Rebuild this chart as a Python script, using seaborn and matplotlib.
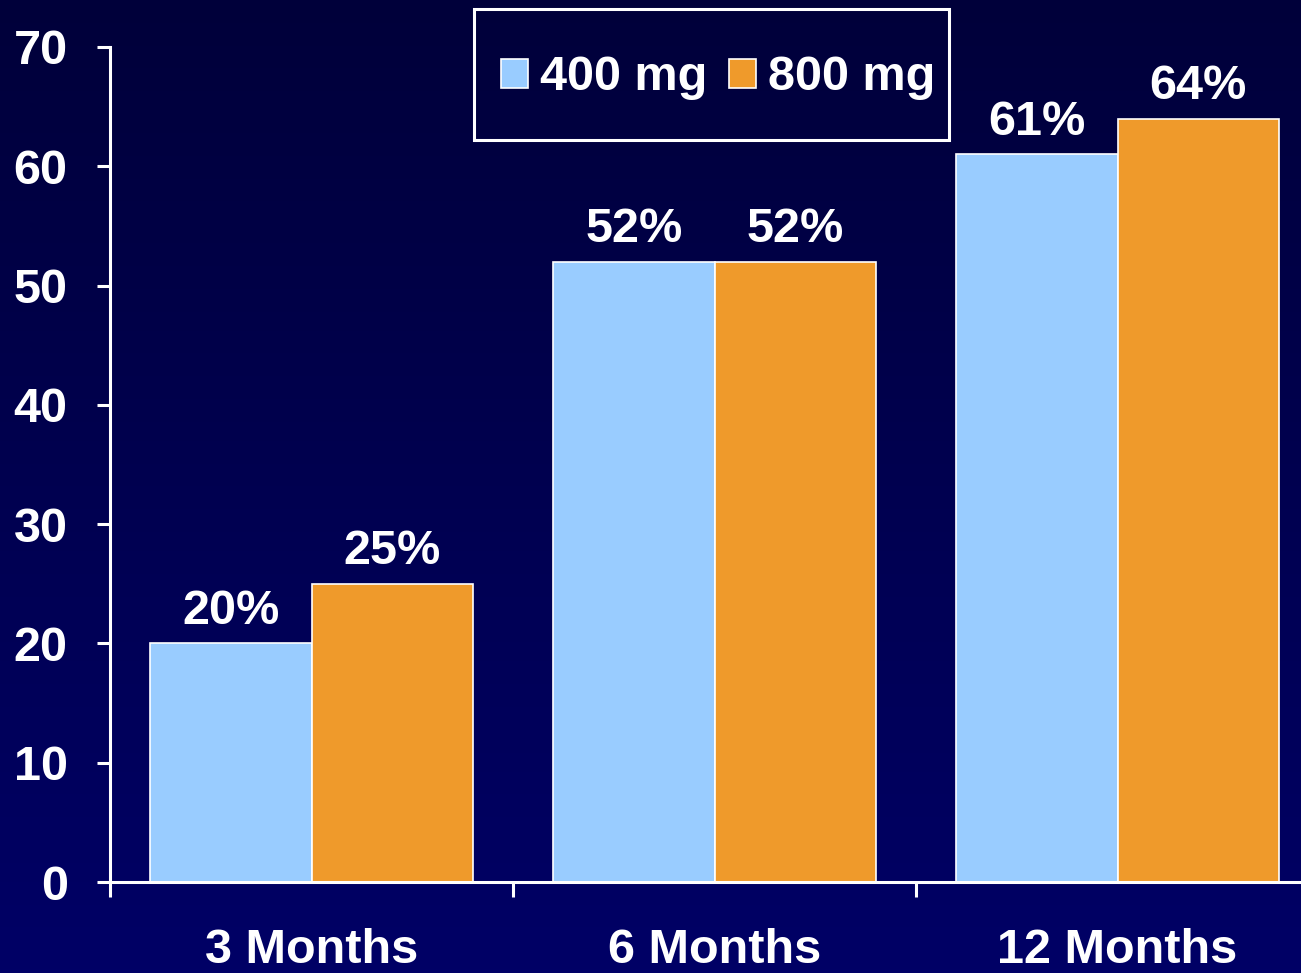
import numpy as np
import pandas as pd
import matplotlib
matplotlib.use("Agg")
import matplotlib.pyplot as plt
import seaborn as sns
from matplotlib.colors import LinearSegmentedColormap
from matplotlib.patches import Rectangle

# Response rates by time point and dose
periods = ["3 Months", "6 Months", "12 Months"]
doses = ["400 mg", "800 mg"]
rate_400 = [20, 52, 61]
rate_800 = [25, 52, 64]
y_ticks = [0, 10, 20, 30, 40, 50, 60, 70]

bar_colors = {"400 mg": "#99CCFF", "800 mg": "#EF9A2B"}

df = pd.DataFrame({
    "period": periods * 2,
    "dose": [doses[0]] * 3 + [doses[1]] * 3,
    "rate": rate_400 + rate_800,
})

sns.set_theme(style="white")
plt.rcParams["font.family"] = ["Liberation Sans", "DejaVu Sans"]
plt.rcParams["font.weight"] = "bold"

W, H = 1301, 973
fig = plt.figure(figsize=(W / 100, H / 100), dpi=100)

# navy backdrop, slightly lighter toward the bottom
bg = fig.add_axes([0, 0, 1, 1], zorder=-10)
grad = np.linspace(0, 1, 256).reshape(-1, 1)
cmap = LinearSegmentedColormap.from_list("navy", ["#00003A", "#000066"])
bg.imshow(grad, aspect="auto", cmap=cmap, extent=[0, 1, 0, 1], origin="upper")
bg.set_axis_off()

ax = fig.add_axes([110 / W, 91 / H, 1209 / W, 835 / H])
ax.patch.set_alpha(0)

sns.barplot(data=df, x="period", y="rate", hue="dose", order=periods,
            hue_order=doses, palette=bar_colors, width=0.8, gap=0,
            edgecolor="white", linewidth=1.2, saturation=1, ax=ax)

ax.set_xlim(-0.5, 2.5)
ax.set_ylim(0, 70)
ax.set_yticks(y_ticks)
ax.set_xlabel("")
ax.set_ylabel("")

for cont in ax.containers:
    ax.bar_label(cont, labels=[f"{v:g}%" for v in cont.datavalues],
                 padding=7, color="white", fontsize=35, fontweight="bold")

for side in ["top", "right"]:
    ax.spines[side].set_visible(False)
for side in ["left", "bottom"]:
    ax.spines[side].set_color("white")
    ax.spines[side].set_linewidth(2.2)

ax.tick_params(axis="y", which="major", left=True, direction="out", length=9.5,
               width=2.2, color="white", pad=21, labelsize=35, labelcolor="white")
ax.tick_params(axis="x", which="major", length=0, pad=33, labelsize=35,
               labelcolor="white")
ax.set_xticks([-0.5, 0.5, 1.5, 2.5], minor=True)
ax.tick_params(axis="x", which="minor", bottom=True, direction="out", length=11,
               width=2.2, color="white")
for lab in ax.get_xticklabels() + ax.get_yticklabels():
    lab.set_fontweight("bold")

leg = ax.legend(loc="center", bbox_to_anchor=(718 / W, 1 - 78 / H),
                bbox_transform=fig.transFigure, ncol=2, frameon=False,
                fontsize=35, handlelength=0.55, handleheight=0.55,
                handletextpad=0.25, columnspacing=0.45, borderpad=0,
                borderaxespad=0)
for t in leg.get_texts():
    t.set_color("white")
    t.set_fontweight("bold")

# legend box
fig.patches.append(Rectangle((474 / W, 1 - 140 / H), 475 / W, 131 / H,
                             transform=fig.transFigure, fill=False,
                             edgecolor="white", linewidth=2.2, zorder=5))

fig.savefig("out.png", dpi=100)
